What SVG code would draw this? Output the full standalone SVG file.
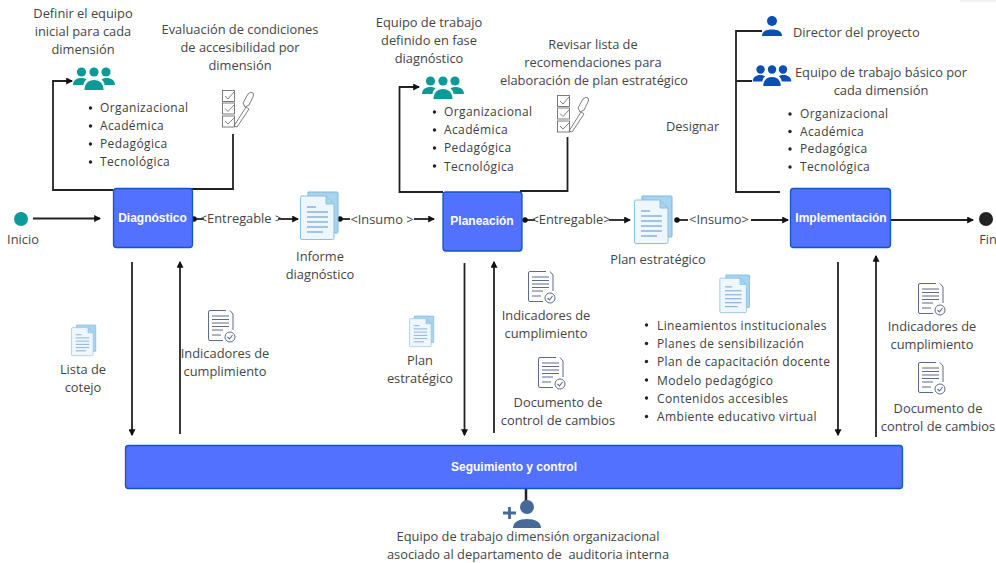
<svg xmlns="http://www.w3.org/2000/svg" width="996" height="563" viewBox="0 0 996 563">
<style>
text{font-family:"Open Sans","Noto Sans","Liberation Sans",sans-serif;font-size:12.85px;fill:#454545;white-space:pre}
.c{text-anchor:middle}
.b{letter-spacing:.38px;font-size:12px;fill:#404040}
.t{font-family:"Liberation Sans",Arial,sans-serif;font-weight:700;font-size:12px;fill:#fff;text-anchor:middle}
.box{fill:#5271ff;stroke:#0f57c4;stroke-width:1.3}
.ln{fill:none;stroke:#222;stroke-width:1.8}
.ar{marker-end:url(#ah)}
.dt{marker-start:url(#dot)}
.bu{fill:#222}
.ol{fill:none;stroke:#5b6b8c;stroke-width:1}
.ls{fill:none;stroke:#5b6b8c;stroke-width:1.1}
.chk{fill:none;stroke:#6f6f6f;stroke-width:.9}
</style>
<defs>
<marker id="ah" viewBox="0 0 6 6" refX="5" refY="3" markerWidth="7" markerHeight="7" markerUnits="userSpaceOnUse" orient="auto"><path d="M0 0L6 3L0 6z" fill="#111"/></marker>
<marker id="dot" viewBox="0 0 6 6" refX="3" refY="3" markerWidth="5.500" markerHeight="5.500" markerUnits="userSpaceOnUse"><circle cx="3" cy="3" r="3" fill="#111"/></marker>
<symbol id="people" viewBox="0 0 42 24" overflow="visible">
<circle cx="8.500" cy="5" r="4.600"/><circle cx="21" cy="5" r="4.600"/><circle cx="33" cy="5" r="4.600"/>
<path d="M0 18c0-4.500 3.500-7 8.500-7 2 0 4 .5 5 1.500-2 1.500-3 3.500-3 5.500z"/>
<path d="M42 18c0-4.500-3.500-7-8.500-7-2 0-4 .5-5 1.500 2 1.500 3 3.500 3 5.500z"/>
<path d="M11.500 23c0-6.500 4-10 9.500-10s9.500 3.500 9.500 10z"/>
</symbol>
<symbol id="doc" viewBox="0 0 38 48" overflow="visible">
<path d="M8 0H37a1 1 0 0 1 1 1V40a1 1 0 0 1-1 1H8z" fill="#a9d4ef" stroke="#7fb6dc"/>
<path d="M2 4H26L34 12V46a1.500 1.500 0 0 1-1.500 1.500H2A1.500 1.500 0 0 1 .5 46V5.500A1.500 1.500 0 0 1 2 4z" fill="#eef7fd" stroke="#8dc0e2" stroke-width="1"/>
<path d="M26 4V12H34z" fill="#a9d4ef" stroke="#8dc0e2"/>
<path d="M7 15H16M7 20H28M7 25H28M7 30H28M7 35H28M7 40H23" stroke="#5a8fc9" stroke-width="1" fill="none"/>
</symbol>
<symbol id="signed" viewBox="0 0 28 33" overflow="visible">
<path class="ol" d="M18 .5H2A1.500 1.500 0 0 0 .5 2V29A1.500 1.500 0 0 0 2 30.500H15"/>
<path class="ol" d="M22 .5L25 4V20"/>
<path class="ls" d="M4 6H21M4 9.500H21M4 13H21M4 16.500H21M4 20H15M4 25H13"/>
<circle cx="22" cy="27" r="5" fill="#fff" stroke="#5b6b8c" stroke-width="1"/>
<path class="ls" d="M19.500 27L21.500 29L24.500 25"/>
</symbol>
<symbol id="check" viewBox="0 0 32 38" overflow="visible">
<rect class="chk" x=".5" y=".5" width="12" height="11"/><rect class="chk" x=".5" y="13" width="12" height="11"/><rect class="chk" x=".5" y="26" width="12" height="11"/>
<path class="chk" d="M3 6L6 9L12 2M3 18.500L6 21.500L12 15M3 31L6 34L12 28"/>
<path class="chk" d="M12 36L24 17L27 19L15 37z"/>
<path class="chk" d="M23 17L21 13L26 4Q29 1 31 3Q32 5 31 7L27 15z"/>
</symbol>
</defs>

<rect x="960" y="0" width="36" height="2" fill="#f2f2f2"/>

<g id="connectors">
<path class="ln ar" d="M33 218.500H100"/>
<path class="ln ar" d="M113 190H53V81H72"/>
<path class="ln" d="M190 189H233V134"/>
<path class="ln dt" d="M194 219H204"/>
<path class="ln ar" d="M278 219H298"/>
<path class="ln dt" d="M340 219H350"/>
<path class="ln ar" d="M414 219H434"/>
<path class="ln ar" d="M443 192H399.500V87H419"/>
<path class="ln" d="M520 191H567.500V137"/>
<path class="ln dt" d="M525 220H535"/>
<path class="ln ar" d="M609 220H630"/>
<path class="ln dt" d="M677 220H688"/>
<path class="ln ar" d="M751 220H788"/>
<path class="ln ar" d="M890 220H973"/>
<path class="ln" d="M780 192H736V31H762M736 81H752"/>
<path class="ln ar" d="M132 262V435"/>
<path class="ln ar" d="M180 434V262"/>
<path class="ln ar" d="M464.500 263V435"/>
<path class="ln ar" d="M494 433V262"/>
<path class="ln ar" d="M838 262V435"/>
<path class="ln ar" d="M876 437V256"/>
<path class="ln" d="M526 489V503" style="stroke-width:2.500"/>
</g>

<g id="inicio"><circle cx="21" cy="219" r="7" fill="#0a9a99"/><text class="c" x="23" y="244">Inicio</text></g>
<g id="fin"><circle cx="986" cy="219" r="7" fill="#222"/><text class="c" x="988" y="244">Fin</text></g>

<g id="diagnostico"><rect class="box" x="113.500" y="188.500" width="79" height="59" rx="3"/><text class="t" x="152.500" y="222">Diagnóstico</text></g>
<g id="planeacion"><rect class="box" x="443" y="192" width="79" height="59" rx="3"/><text class="t" x="482" y="225">Planeación</text></g>
<g id="implementacion"><rect class="box" x="790.500" y="188.500" width="100" height="59" rx="3"/><text class="t" x="841" y="222">Implementación</text></g>
<g id="seguimiento"><rect class="box" x="125.500" y="445.500" width="777" height="43" rx="3"/><text class="t" x="514" y="471">Seguimiento y control</text></g>

<g id="definir">
<text class="c" x="83" y="18">Definir el equipo</text><text class="c" x="83" y="36">inicial para cada</text><text class="c" x="83" y="54">dimensión</text>
<use href="#people" x="73" y="67" width="42" height="24" fill="#0a9a99"/>
<circle class="bu" cx="90.500" cy="108" r="1.700"/><circle class="bu" cx="90.500" cy="126" r="1.700"/><circle class="bu" cx="90.500" cy="144" r="1.700"/><circle class="bu" cx="90.500" cy="162" r="1.700"/>
<text class="b" x="100" y="112">Organizacional</text><text class="b" x="100" y="130">Académica</text><text class="b" x="100" y="148">Pedagógica</text><text class="b" x="100" y="166">Tecnológica</text>
</g>
<g id="evaluacion">
<text class="c" x="240" y="34">Evaluación de condiciones</text><text class="c" x="240" y="52">de accesibilidad por</text><text class="c" x="240" y="70">dimensión</text>
<use href="#check" x="222" y="90" width="32" height="38"/>
</g>
<g id="entregable-1"><text class="c" x="241" y="223">&lt;Entregable &gt;</text></g>
<g id="informe"><use href="#doc" x="300" y="192" width="38" height="48"/><text class="c" x="320" y="261">Informe</text><text class="c" x="320" y="279">diagnóstico</text></g>
<g id="insumo-1"><text class="c" x="382" y="224">&lt;Insumo &gt;</text></g>

<g id="lista"><use href="#doc" x="71" y="325" width="25" height="31"/><text class="c" x="83" y="374">Lista de</text><text class="c" x="83" y="392">cotejo</text></g>
<g id="indicadores-1"><use href="#signed" x="208" y="310" width="28" height="33"/><text class="c" x="225" y="358">Indicadores de</text><text class="c" x="225" y="376">cumplimiento</text></g>

<g id="equipo-definido">
<text class="c" x="429" y="27">Equipo de trabajo</text><text class="c" x="429" y="45">definido en fase</text><text class="c" x="429" y="63">diagnóstico</text>
<use href="#people" x="422" y="76" width="42" height="24" fill="#0a9a99"/>
<circle class="bu" cx="434.500" cy="112" r="1.700"/><circle class="bu" cx="434.500" cy="130" r="1.700"/><circle class="bu" cx="434.500" cy="148" r="1.700"/><circle class="bu" cx="434.500" cy="166" r="1.700"/>
<text class="b" x="444" y="116">Organizacional</text><text class="b" x="444" y="134">Académica</text><text class="b" x="444" y="152">Pedagógica</text><text class="b" x="444" y="171">Tecnológica</text>
</g>
<g id="revisar">
<text class="c" x="593" y="49">Revisar lista de</text><text class="c" x="593" y="67">recomendaciones para</text><text class="c" x="594" y="85">elaboración de plan estratégico</text>
<use href="#check" x="557" y="95" width="32" height="38"/>
</g>
<g id="entregable-2"><text class="c" x="571" y="224">&lt;Entregable&gt;</text></g>
<g id="plan"><use href="#doc" x="634" y="196" width="38" height="48"/><text class="c" x="658" y="264">Plan estratégico</text></g>
<g id="insumo-2"><text class="c" x="719" y="224">&lt;Insumo&gt;</text></g>

<g id="plan-2"><use href="#doc" x="409" y="316" width="25" height="31"/><text class="c" x="420" y="365">Plan</text><text class="c" x="420" y="383">estratégico</text></g>
<g id="indicadores-2"><use href="#signed" x="528" y="271" width="28" height="33"/><text class="c" x="546" y="320">Indicadores de</text><text class="c" x="546" y="338">cumplimiento</text></g>
<g id="control-1"><use href="#signed" x="538" y="357" width="28" height="33"/><text class="c" x="558" y="407">Documento de</text><text class="c" x="558" y="425">control de cambios</text></g>

<g id="lineamientos">
<use href="#doc" x="719" y="275" width="31" height="38"/>
<circle class="bu" cx="646.500" cy="325" r="1.700"/><circle class="bu" cx="646.500" cy="343.500" r="1.700"/><circle class="bu" cx="646.500" cy="361.500" r="1.700"/><circle class="bu" cx="646.500" cy="380" r="1.700"/><circle class="bu" cx="646.500" cy="398" r="1.700"/><circle class="bu" cx="646.500" cy="416.500" r="1.700"/>
<text class="b" x="657" y="329.500">Lineamientos institucionales</text><text class="b" x="657" y="348">Planes de sensibilización</text><text class="b" x="657" y="366">Plan de capacitación docente</text><text class="b" x="657" y="384.500">Modelo pedagógico</text><text class="b" x="657" y="402.500">Contenidos accesibles</text><text class="b" x="657" y="421">Ambiente educativo virtual</text>
</g>

<g id="director">
<circle cx="772" cy="21" r="5" fill="#0a4fb5"/><path d="M762 36c0-4.500 4-6.500 10-6.500s10 2 10 6.500z" fill="#0a4fb5"/>
<text x="793" y="37">Director del proyecto</text>
</g>
<g id="equipo-basico">
<use href="#people" x="752" y="65" width="40" height="22" fill="#0a4fb5"/>
<text class="c" x="881" y="77">Equipo de trabajo básico por</text><text class="c" x="881" y="95">cada dimensión</text>
<circle class="bu" cx="790" cy="114" r="1.700"/><circle class="bu" cx="790" cy="131.500" r="1.700"/><circle class="bu" cx="790" cy="149" r="1.700"/><circle class="bu" cx="790" cy="167" r="1.700"/>
<text class="b" x="800" y="118">Organizacional</text><text class="b" x="800" y="136">Académica</text><text class="b" x="800" y="153">Pedagógica</text><text class="b" x="800" y="171">Tecnológica</text>
</g>
<g id="designar"><text x="666" y="131">Designar</text></g>

<g id="indicadores-3"><use href="#signed" x="918" y="283" width="28" height="33"/><text class="c" x="932" y="331">Indicadores de</text><text class="c" x="932" y="349">cumplimiento</text></g>
<g id="control-2"><use href="#signed" x="918" y="362" width="28" height="33"/><text class="c" x="938" y="413">Documento de</text><text class="c" x="938" y="431">control de cambios</text></g>

<g id="equipo-organizacional">
<circle cx="527" cy="507" r="7" fill="#456a9a"/><path d="M513 528c0-6 6-9 14-9s14 3 14 9z" fill="#456a9a"/>
<path d="M503 513H516M509.500 507V519" stroke="#456a9a" stroke-width="2.800" fill="none"/>
<text class="c" x="528" y="541">Equipo de trabajo dimensión organizacional</text><text class="c" x="528" y="559">asociado al departamento de  auditoria interna</text>
</g>
</svg>
